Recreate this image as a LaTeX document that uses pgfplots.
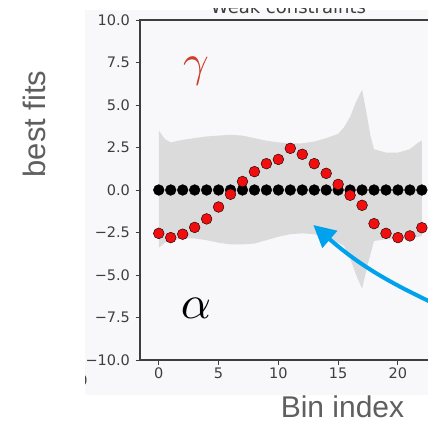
\documentclass[border=0pt]{standalone}
\usepackage{fontspec}
\setmainfont{DejaVu Sans}
\newfontfamily\labfont{Liberation Sans}
\usepackage{pgfplots}
\pgfplotsset{compat=1.18}
\usetikzlibrary{arrows.meta}
\definecolor{panelbg}{RGB}{248,248,250}
\definecolor{band}{RGB}{219,219,219}
\definecolor{ptred}{RGB}{240,14,14}
\definecolor{gammared}{RGB}{205,60,45}
\definecolor{arrowblue}{RGB}{0,162,237}
\definecolor{spine}{RGB}{62,62,62}
\definecolor{labgray}{RGB}{95,95,95}
\begin{document}
\begin{tikzpicture}[x=1pt,y=1pt]
\useasboundingbox (0,0) rectangle (428,424);
\clip (0,0) rectangle (428,424);
\fill[white] (0,0) rectangle (428,424);
\fill[panelbg] (85,29) rectangle (428,414);
\node[font=\fontsize{18}{18}\selectfont, text=spine, anchor=base, inner sep=0pt] at (288.5,410.5) {Weak constraints};
\fill[white] (0,416) rectangle (428,424);
\begin{scope}
\clip (85,0) rectangle (428,424);
\node[font=\fontsize{14}{14}\selectfont, text=spine] at (83,44) {0};
\end{scope}
\begin{axis}[
  at={(140pt,64pt)}, anchor=south west,
  scale only axis, width=299.8pt, height=340pt,
  xmin=-1.57, xmax=23.5, ymin=-10, ymax=10,
  axis line style={draw=spine, line width=1.2pt},
  tick style={draw=spine, line width=1pt},
  tick align=outside, major tick length=4.5pt,
  tick pos=left,
  xtick={0,5,10,15,20},
  xticklabels={0,5,10,15,20},
  ytick={-10,-7.5,-5,-2.5,0,2.5,5,7.5,10},
  yticklabels={−10.0,−7.5,−5.0,−2.5,0.0,2.5,5.0,7.5,10.0},
  ticklabel style={font=\fontsize{14.5}{14.5}\selectfont, text=spine},
  yticklabel style={xshift=-2pt},
]
\addplot[fill=band, draw=none] coordinates {
 (0,3.5) (0.5,3.0) (1,2.8) (2,2.95) (3,3.05) (4,3.15) (5,3.2) (6,3.25) (7,3.2) (8,3.05) (9,2.9) (10,2.8) (11,2.75) (12,2.75) (13,2.85) (14,3.05) (15,3.3) (15.5,3.7) (16,4.3) (16.5,5.2) (17,5.9) (17.3,4.8) (17.7,3.2) (18,2.4) (19,2.2) (20,2.2) (21,2.4) (21.7,2.8) (22,2.9)
 (22,-2.7) (21,-2.9) (20,-2.9) (19,-2.9) (18,-3.0) (17.5,-4.3) (17,-5.8) (16.5,-5.0) (16,-4.0) (15.5,-3.3) (15,-3.1) (14,-2.8) (13,-2.6) (12,-2.55) (11,-2.6) (10,-2.75) (9,-2.95) (8,-3.15) (7,-3.2) (6,-3.2) (5,-3.1) (4,-2.95) (3,-2.85) (2,-2.85) (1,-3.0) (0.5,-3.1) (0,-3.4)
};
\addplot[only marks, mark=*, mark size=5.4pt, mark options={draw=none, fill=black}] coordinates {
 (0,0) (1,0) (2,0) (3,0) (4,0) (5,0) (6,0) (7,0) (8,0) (9,0) (10,0) (11,0) (12,0) (13,0) (14,0) (15,0) (16,0) (17,0) (18,0) (19,0) (20,0) (21,0) (22,0)
};
\addplot[only marks, mark=*, mark size=5.4pt, mark options={draw=none, fill=ptred}] coordinates {
 (0,-2.55) (1,-2.8) (2,-2.6) (3,-2.2) (4,-1.7) (5,-1.0) (6,-0.25) (7,0.5) (8,1.08) (9,1.55) (10,1.8) (11,2.45) (12,2.1) (13,1.55) (14,0.98) (15,0.33) (16,-0.31) (17,-0.9) (18,-1.98) (19,-2.55) (20,-2.8) (21,-2.7) (22,-2.22)
};
\end{axis}
\node[text=gammared, scale=4.5] at (196,353) {$\gamma$};
\node[text=black, scale=4.7] at (196,116) {$\alpha$};
\draw[arrowblue, line width=4pt, -{Triangle[length=22pt,width=22pt]}] (434,120.5) to[bend left=8] (313.3,199);
\node[font=\labfont\fontsize{31}{31}\selectfont, text=labgray, rotate=90, anchor=base, inner sep=0pt] at (45,300) {best fits};
\node[font=\labfont\fontsize{30}{30}\selectfont, text=labgray, anchor=base, inner sep=0pt] at (342.5,7) {Bin index};
\end{tikzpicture}
\end{document}
